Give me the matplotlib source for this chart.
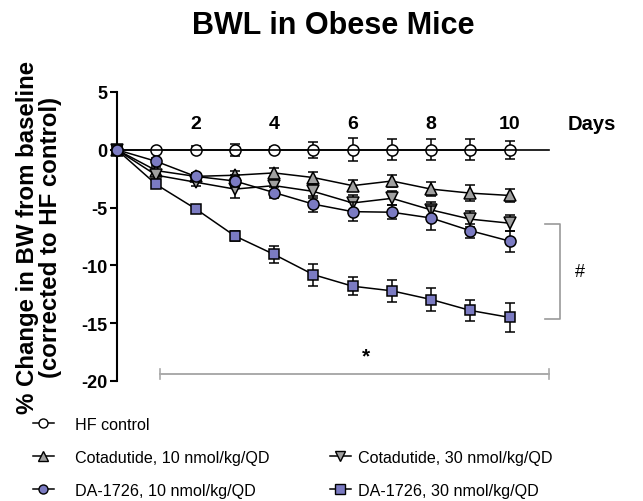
import matplotlib.pyplot as plt
from matplotlib.lines import Line2D

plt.rcParams["font.family"] = ["Liberation Sans", "DejaVu Sans"]

# === DATA ===
days = [0, 1, 2, 3, 4, 5, 6, 7, 8, 9, 10]
day_labels = [2, 4, 6, 8, 10]

hf_mean = [0, 0, 0, 0, 0, 0, 0, 0, 0, 0, 0]
hf_err = [0, 0.1, 0.3, 0.5, 0.2, 0.7, 1.0, 0.9, 0.9, 0.9, 0.8]

cota10_mean = [0, -1.8, -2.3, -2.2, -2.0, -2.4, -3.1, -2.7, -3.4, -3.75, -3.95]
cota10_err = [0, 0.3, 0.3, 0.4, 0.4, 0.5, 0.5, 0.5, 0.6, 0.7, 0.6]

cota30_mean = [0, -2.2, -2.8, -3.4, -3.1, -3.6, -4.6, -4.2, -5.2, -6.0, -6.35]
cota30_err = [0, 0.3, 0.3, 0.8, 0.5, 0.6, 0.7, 0.6, 0.7, 0.7, 0.7]

da10_mean = [0, -1.0, -2.3, -2.7, -3.7, -4.7, -5.35, -5.4, -5.9, -7.0, -7.9]
da10_err = [0, 0.3, 0.3, 0.5, 0.5, 0.7, 0.8, 0.6, 1.0, 0.6, 0.9]

da30_mean = [0, -3.0, -5.1, -7.45, -9.05, -10.8, -11.8, -12.2, -12.95, -13.9, -14.5]
da30_err = [0, 0.3, 0.3, 0.4, 0.77, 0.94, 0.77, 0.95, 0.98, 0.95, 1.25]

labels = ["HF control", "Cotadutide, 10 nmol/kg/QD", "Cotadutide, 30 nmol/kg/QD",
          "DA-1726, 10 nmol/kg/QD", "DA-1726, 30 nmol/kg/QD"]

PURPLE = "#7B7BC2"
GREY = "#A0A0A0"

# === PLOT ===
fig = plt.figure(figsize=(6.43, 5.02), dpi=100)
ax = fig.add_axes([117 / 643, 1 - 382 / 502, (549 - 117) / 643, (382 - 93) / 502])

series = [
    (hf_mean, hf_err, "o", "white", 8, 2),
    (cota10_mean, cota10_err, "^", GREY, 8.5, 3),
    (cota30_mean, cota30_err, "v", GREY, 8.5, 4),
    (da10_mean, da10_err, "o", PURPLE, 8, 6),
    (da30_mean, da30_err, "s", PURPLE, 7.5, 5),
]
handles = []
for (m, e, mk, fc, ms, z), lab in zip(series, labels):
    ax.errorbar(days, m, yerr=e, color="black", lw=1.1, marker=mk, mfc=fc,
                mec="black", mew=1.1, ms=ms, capsize=3.6, capthick=1.1,
                elinewidth=1.1, zorder=z, clip_on=False)
    handles.append(Line2D([], [], color="black", lw=1.1, marker=mk, mfc=fc,
                          mec="black", mew=1.0, ms=6.5, label=lab))

ax.set_xlim(0, 11)
ax.set_ylim(-20, 5)
ax.set_yticks([5, 0, -5, -10, -15, -20])
ax.set_yticklabels(["5", "0", "-5", "-10", "-15", "-20"], fontsize=13, fontweight="bold")
ax.tick_params(axis="y", length=5, width=1.5, pad=2)
ax.set_xticks([])
for s in ["top", "right"]:
    ax.spines[s].set_visible(False)
ax.spines["left"].set_linewidth(1.5)
ax.spines["bottom"].set_position(("data", 0))
ax.spines["bottom"].set_linewidth(1.2)

for d in day_labels:
    ax.text(d, 2.3, str(d), ha="center", va="center", fontsize=14, fontweight="bold")
ax.text(12.1, 2.3, "Days", ha="center", va="center", fontsize=14.5, fontweight="bold",
        clip_on=False)

ax.set_ylabel("% Change in BW from baseline\n(corrected to HF control)",
              fontsize=17.3, fontweight="bold", linespacing=1.0)
ax.yaxis.set_label_coords(-0.127, 0.5)
fig.text(333 / 643, 1 - 34 / 502, "BWL in Obese Mice", ha="center", va="baseline",
         fontsize=22, fontweight="bold")

# significance brackets
ax.plot([10.9, 11.28, 11.28, 10.9], [-6.4, -6.4, -14.6, -14.6], color="#999999",
        lw=1.2, clip_on=False)
ax.text(11.8, -10.5, "#", ha="center", va="center", fontsize=13, clip_on=False)
ax.plot([1.1, 11.0], [-19.4, -19.4], color="#AAAAAA", lw=1.4, clip_on=False)
ax.plot([1.1, 1.1], [-19.0, -19.8], color="#AAAAAA", lw=1.2, clip_on=False)
ax.plot([11.0, 11.0], [-19.0, -19.8], color="#AAAAAA", lw=1.2, clip_on=False)
ax.text(6.35, -17.8, "*", ha="center", va="center", fontsize=15, fontweight="bold")

# legend: left column and right column
blank = Line2D([], [], alpha=0)
leg_kw = dict(loc="upper left", frameon=False, fontsize=11.6, handlelength=1.3,
              labelspacing=1.12, borderpad=0, borderaxespad=0)
fig.legend([handles[0], handles[1], handles[3]], [labels[0], labels[1], labels[3]],
           bbox_to_anchor=(33 / 643, 1 - 418 / 502), handletextpad=1.3, **leg_kw)
fig.legend([blank, handles[2], handles[4]], ["", labels[2], labels[4]],
           bbox_to_anchor=(330 / 643, 1 - 418 / 502), handletextpad=0.45, **leg_kw)

fig.savefig("out.png", dpi=100)
